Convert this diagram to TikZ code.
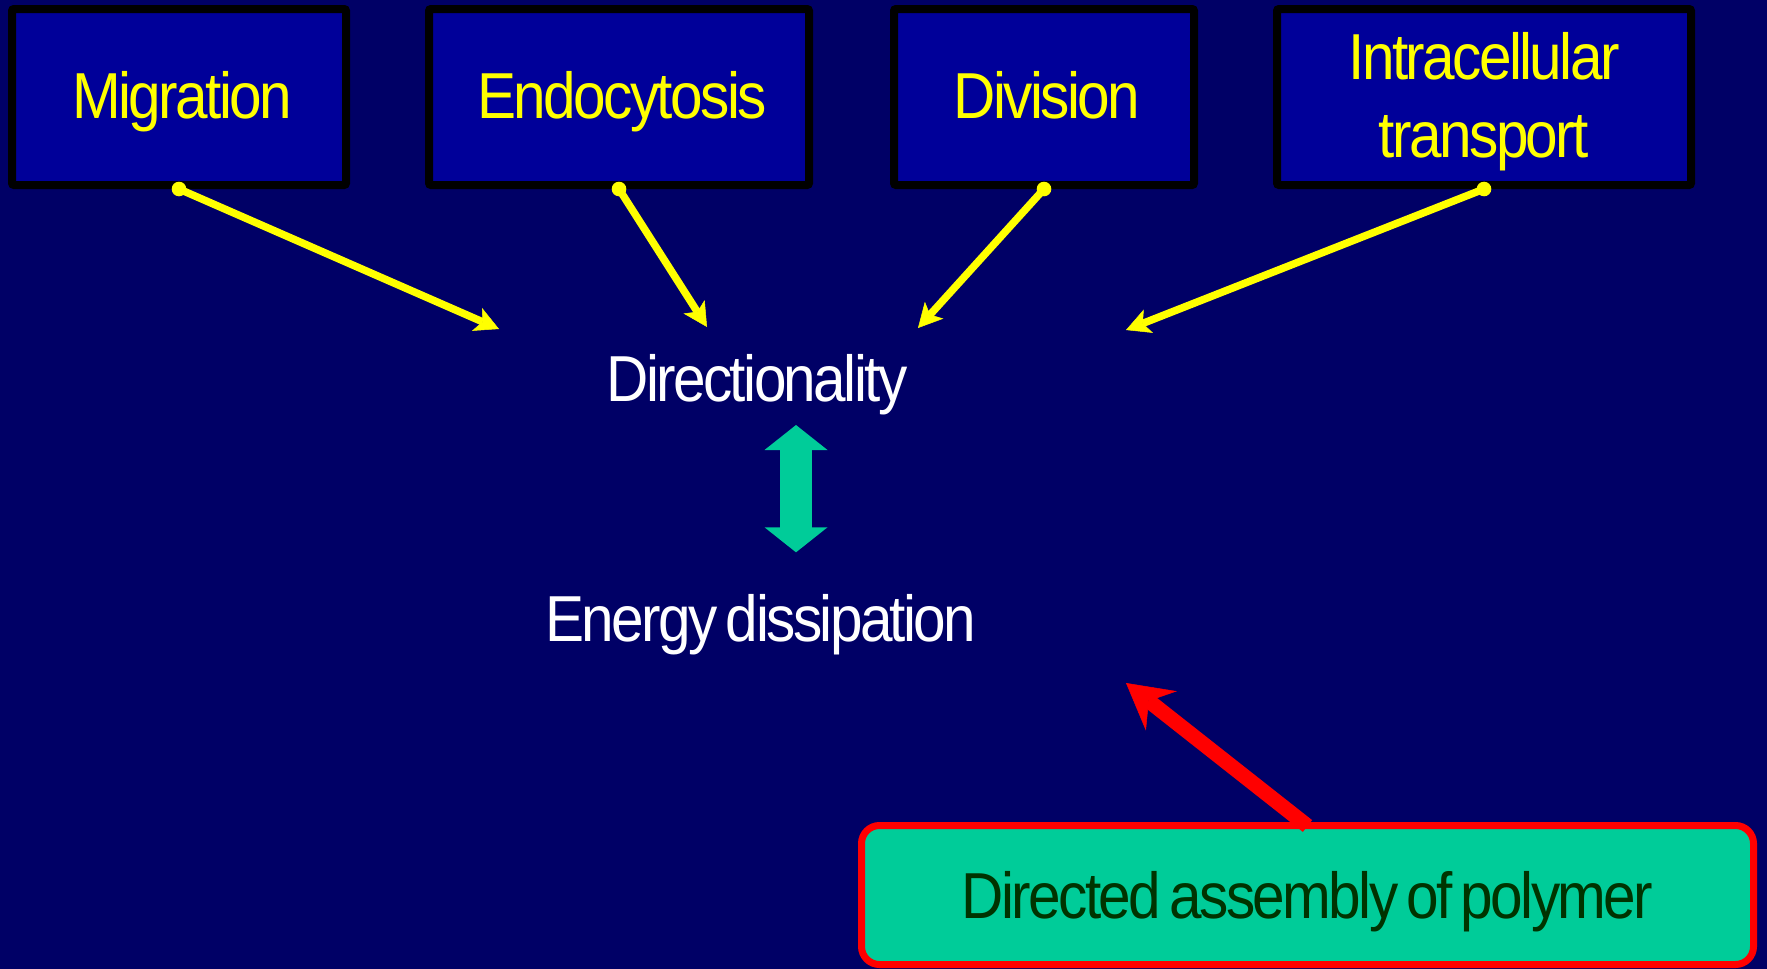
\documentclass[tikz,border=0pt]{standalone}
\usepackage{fontspec}
\setmainfont{Liberation Sans}[FakeStretch=0.9, LetterSpace=-4, WordSpace=0.6]
\usetikzlibrary{arrows.meta}

\definecolor{slidebg}{RGB}{0,0,102}
\definecolor{boxblue}{RGB}{0,0,153}
\definecolor{seagreen}{RGB}{0,204,153}
\definecolor{darkleaf}{RGB}{0,51,0}
\definecolor{signyellow}{RGB}{255,255,0}

\tikzset{
  bigfont/.style={font=\fontsize{65pt}{78pt}\selectfont},
  procbox/.style={draw=black, line width=8pt, fill=boxblue, rounded corners=2pt,
    minimum height=176pt, inner sep=0pt},
  boxlabel/.style={bigfont, text=signyellow, inner sep=0pt,
    text height=42pt, text depth=0pt},
  plainlabel/.style={bigfont, text=white, inner sep=0pt, anchor=base},
  feeder/.style={draw=signyellow, line width=7.5pt,
    -{Stealth[length=24pt, width=25pt, inset=6pt, line width=0.5pt]}},
  feederdot/.style={fill=signyellow},
  polybox/.style={draw=red, line width=7pt, fill=seagreen, rounded corners=18pt,
    minimum width=892pt, minimum height=139pt, inner sep=0pt,
    bigfont, text=darkleaf, text height=46pt, text depth=0pt},
  pusher/.style={draw=red, line width=15pt,
    -{Stealth[length=45pt, width=50pt, inset=16pt, line width=0.5pt]}},
  coupling/.style={fill=seagreen}
}

\begin{document}
\begin{tikzpicture}[x=1pt, y=-1pt]
  % slide background
  \fill[slidebg] (0,0) rectangle (1767,969);
  \useasboundingbox (0,0) rectangle (1767,969);

  % four cellular processes
  \node[procbox, minimum width=334pt] (mig)  at (179,97)  {};
  \node[procbox, minimum width=380pt] (endo) at (619,97)  {};
  \node[procbox, minimum width=300pt] (divi) at (1044,97) {};
  \node[procbox, minimum width=414pt] (intr) at (1484,97) {};

  \node[boxlabel] (migT)  at ([xshift=3pt]mig.center)  {Migration};
  \node[boxlabel] (endoT) at ([xshift=3pt]endo.center) {Endocytosis};
  \node[boxlabel] (diviT) at ([xshift=3pt]divi.center) {Division};
  \node[boxlabel] (intrA) at ([yshift=39pt]intr.center)  {Intracellular};
  \node[boxlabel] (intrB) at ([yshift=-39pt]intr.center) {transport};

  % central concepts
  \node[plainlabel] (dir) at (757,401) {Directionality};
  \node[plainlabel] (energy) at (761,641) {Energy dissipation};

  % arrow ends around the word Directionality
  \coordinate (inM) at (499,329);
  \coordinate (inE) at (707,327);
  \coordinate (inD) at (918,328);
  \coordinate (inI) at (1126,330);

  \draw[feeder] (mig.south)  -- (inM);
  \draw[feeder] (endo.south) -- (inE);
  \draw[feeder] (divi.south) -- (inD);
  \draw[feeder] (intr.south) -- (inI);
  \foreach \b in {mig,endo,divi,intr}
    \fill[feederdot] (\b.south) circle (7.3pt);

  % two-way link between directionality and energy dissipation
  \coordinate (dtop) at (796,425);
  \coordinate (dbot) at (796,552.3);
  \fill[coupling] (dtop) -- ++(31.5,25) -- ++(-15.7,0) -- ++(0,77.3)
    -- ++(15.7,0) -- (dbot) -- ++(-31.5,-25) -- ++(15.7,0)
    -- ++(0,-77.3) -- ++(-15.7,0) -- cycle;

  % polymer assembly box and its arrow
  \node[polybox] (asm) at (1307.5,895) {Directed assembly of polymer};
  \coordinate (inR) at (1126,683);
  \draw[pusher] ([yshift=-4pt]asm.north) -- (inR);
\end{tikzpicture}
\end{document}
